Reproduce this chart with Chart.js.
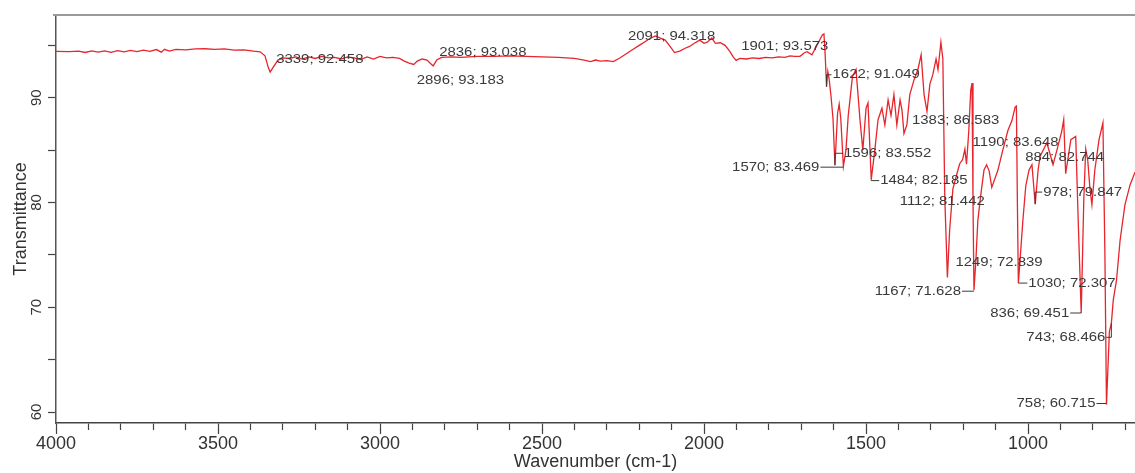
<!DOCTYPE html>
<html><head><meta charset="utf-8">
<script src="https://cdn.jsdelivr.net/npm/chart.js@4.4.0/dist/chart.umd.min.js"></script>
<style>html,body{margin:0;padding:0;background:#fff;overflow:hidden}#wrap{width:1135px;height:473px}</style>
</head><body>
<div id="wrap"><canvas id="c" width="1135" height="473"></canvas></div>
<script>
// ---- data ----
const wavenumbers = [
 4000,3960,3930,3910,3890,3870,3850,3830,3810,3790,3770,3750,3730,3710,3690,3675,3665,3650,3630,3600,
 3570,3540,3510,3480,3450,3420,3390,3370,3355,3345,3339,3330,3315,3300,3280,3260,3240,3220,3200,3180,
 3160,3140,3120,3100,3080,3060,3040,3020,3000,2980,2960,2940,2925,2910,2896,2885,2870,2855,2845,2836,
 2825,2810,2780,2750,2700,2650,2600,2550,2500,2450,2400,2370,2350,2335,2320,2300,2280,2260,2240,2220,
 2200,2180,2165,2150,2135,2120,2105,2091,2075,2060,2045,2030,2013,2000,1990,1976,1965,1950,1935,1920,
 1910,1901,1890,1870,1850,1830,1810,1790,1770,1750,1735,1720,1704,1690,1682,1667,1655,1645,1635,1630,
 1626,1622,1618,1614,1608,1602,1596,1588,1583,1578,1570,1562,1555,1542,1531,1519,1510,1500,1494,1484,
 1473,1463,1451,1442,1432,1423,1414,1405,1395,1389,1383,1374,1365,1352,1340,1330,1321,1312,1303,1294,
 1284,1278,1269,1263,1257,1249,1242,1232,1220,1211,1202,1195,1190,1183,1177,1173,1170,1167,1161,1155,
 1146,1136,1128,1120,1112,1093,1078,1062,1050,1040,1036,1033,1030,1025,1016,1007,997,988,978,969,
 963,942,923,911,896,890,884,868,853,845,836,828,822,816,809,803,794,781,769,763,
 758,749,743,737,727,716,701,685,670
];
const transmittance = [
 94.42,94.40,94.45,94.32,94.48,94.35,94.47,94.33,94.50,94.38,94.52,94.40,94.55,94.42,94.60,94.35,94.62,94.45,94.62,94.58,
 94.66,94.68,94.62,94.66,94.55,94.58,94.45,94.38,94.0,92.9,92.458,92.9,93.6,93.8,93.75,93.9,93.7,93.9,93.75,93.95,
 93.8,93.85,93.7,93.9,93.8,93.65,93.9,93.7,93.95,93.8,93.85,93.75,93.5,93.3,93.183,93.5,93.7,93.6,93.3,93.038,
 93.6,93.85,93.9,93.85,93.95,93.95,94.0,93.95,93.9,93.85,93.75,93.6,93.45,93.6,93.5,93.55,93.45,93.8,94.2,94.6,
 95.0,95.4,95.7,95.9,95.7,95.5,94.9,94.318,94.45,94.7,94.9,95.2,95.5,95.2,95.3,95.7,95.2,95.25,95.0,94.4,
 93.9,93.573,93.75,93.7,93.8,93.75,93.85,93.8,93.9,93.85,94.0,93.95,93.95,94.3,94.4,94.1,94.8,95.4,96.0,96.1,
 94.0,91.049,92.5,91.8,90.1,88.0,83.552,88.5,89.4,88.0,83.469,85.0,88.3,92.0,92.7,88.0,85.0,89.0,89.5,82.185,
 85.0,87.9,89.0,87.4,89.8,88.3,90.3,87.4,89.8,88.8,86.583,87.4,90.3,91.7,92.7,94.1,90.3,88.7,91.3,92.2,
 93.7,92.7,95.3,93.7,80.4,72.839,77.4,81.3,82.7,83.7,84.1,85.1,83.648,86.8,90.7,91.4,80.2,71.628,74.5,78.3,
 80.7,83.1,83.6,83.0,81.442,83.1,85.0,86.9,87.8,89.1,89.2,80.0,72.307,74.4,78.3,81.6,83.1,83.6,79.847,83.1,
 84.4,85.7,83.6,85.0,86.8,87.9,82.744,86.0,86.3,78.0,69.451,80.3,85.1,84.1,81.3,79.8,83.1,86.0,87.6,75.4,
 60.715,67.7,68.466,70.7,72.6,76.4,79.8,81.7,82.9
];
const peakWavenumbers = [3339,2896,2836,2091,1901,1622,1570,1596,1484,1383,1190,1112,884,978,1249,1167,1030,836,743,758];
const peakTransmittance = [92.458,93.183,93.038,94.318,93.573,91.049,83.469,83.552,82.185,86.583,83.648,81.442,82.744,79.847,72.839,71.628,72.307,69.451,68.466,60.715];
const xTickLabels = [4000,3500,3000,2500,2000,1500,1000];
const yTickLabels = [60,70,80,90];

// ---- label layout (pixel offsets from the marked point) ----
const labelPlacement = [
 {dx:6,dy:-13,align:'left'}, {dx:3,dy:16,align:'left'}, {dx:6,dy:-14,align:'left'},
 {dx:-3,dy:-16,align:'center'}, {dx:5,dy:-14,align:'left'}, {dx:6,dy:-12,align:'left',leader:'v'},
 {dx:-24,dy:1,align:'right',leader:'h'}, {dx:9,dy:-12,align:'left',leader:'v'}, {dx:9,dy:1,align:'left',leader:'v'},
 {dx:8,dy:-13,align:'left'}, {dx:6,dy:-22,align:'left'}, {dx:-7,dy:14,align:'right'},
 {dx:-1,dy:-16,align:'center'}, {dx:8,dy:-12,align:'left',leader:'v'}, {dx:8,dy:-15,align:'left'},
 {dx:-13,dy:1,align:'right',leader:'h'}, {dx:10,dy:0,align:'left',leader:'h'}, {dx:-12,dy:0,align:'right',leader:'h'},
 {dx:-6,dy:14,align:'right',leader:'v'}, {dx:-11,dy:-1,align:'right',leader:'h'}
];
const FONT = '"Liberation Sans", Arial, sans-serif';
const SX = 1.15;

const decor = {
  id: 'decor',
  afterDatasetsDraw(chart) {
    const {ctx, chartArea, scales} = chart;
    const xs = scales.x, ys = scales.y;
    ctx.save();
    ctx.strokeStyle = '#9a9a9a'; ctx.lineWidth = 2;
    ctx.beginPath(); ctx.moveTo(chartArea.left - 3, chartArea.top); ctx.lineTo(chartArea.right, chartArea.top); ctx.stroke();
    ctx.strokeStyle = '#444'; ctx.lineWidth = 1.2;
    xTickLabels.forEach(v => {
      const px = Math.round(xs.getPixelForValue(v)) + 0.5;
      ctx.beginPath(); ctx.moveTo(px, chartArea.bottom + 6); ctx.lineTo(px, chartArea.bottom + 11); ctx.stroke();
    });
    ctx.font = '13px ' + FONT;
    ctx.fillStyle = '#3a3a3a'; ctx.strokeStyle = '#3a3a3a'; ctx.lineWidth = 1;
    ctx.textBaseline = 'middle';
    peakWavenumbers.forEach((wn, i) => {
      const p = labelPlacement[i];
      const px = xs.getPixelForValue(wn), py = ys.getPixelForValue(peakTransmittance[i]);
      const text = wn + '; ' + peakTransmittance[i].toFixed(3);
      const w = ctx.measureText(text).width * SX;
      const tx = px + p.dx, ty = py + p.dy;
      const left = p.align === 'left' ? tx : (p.align === 'right' ? tx - w : tx - w / 2);
      if (p.leader) {
        const edge = p.align === 'right' ? left + w + 1 : left - 1;
        ctx.beginPath();
        if (p.leader === 'h') { ctx.moveTo(px, ty); ctx.lineTo(edge, ty); }
        else { ctx.moveTo(px, py); ctx.lineTo(px, ty); ctx.lineTo(edge, ty); }
        ctx.stroke();
      }
      ctx.save(); ctx.translate(left, ty); ctx.scale(SX, 1);
      ctx.textAlign = 'left'; ctx.fillText(text, 0, 0); ctx.restore();
    });
    ctx.restore();
  }
};

Chart.defaults.font.family = FONT;
new Chart(document.getElementById('c'), {
  type: 'line',
  data: { datasets: [{
    data: wavenumbers.map((w, i) => ({x: w, y: transmittance[i]})),
    borderColor: '#e8242c', borderWidth: 1.3, pointRadius: 0, tension: 0, fill: false
  }]},
  options: {
    responsive: false, animation: false, devicePixelRatio: 1,
    layout: { padding: {top: 15, left: 0, right: 0, bottom: 0} },
    plugins: { legend: {display: false}, tooltip: {enabled: false} },
    scales: {
      x: { type: 'linear', reverse: true, min: 670, max: 4000,
        ticks: { stepSize: 100, includeBounds: false, autoSkip: false, maxRotation: 0, minRotation: 0, maxTicksLimit: 1000,
          padding: 3, color: '#333', font: {size: 18},
          callback: v => xTickLabels.includes(v) ? String(v) : '' },
        grid: { drawOnChartArea: false, tickLength: 7, tickColor: '#444', tickWidth: 1.2 },
        border: { display: true, color: '#444', width: 1.5 },
        title: { display: true, text: 'Wavenumber (cm-1)', color: '#333', font: {size: 18}, padding: {top: 0, bottom: 0} },
        afterFit(s) { s.height = 50; }
      },
      y: { type: 'linear', min: 58.95, max: 97.9,
        ticks: { stepSize: 5, includeBounds: false, autoSkip: false, minRotation: 90, maxRotation: 90, crossAlign: 'center', maxTicksLimit: 1000,
          padding: 3, color: '#333', font: {size: 15},
          callback: v => yTickLabels.includes(v) ? String(v) : '' },
        grid: { drawOnChartArea: false, tickLength: 8, tickColor: '#444', tickWidth: 1.2 },
        border: { display: true, color: '#555', width: 1.5 },
        title: { display: true, text: 'Transmittance', color: '#333', font: {size: 18}, padding: {top: 10, bottom: 0} },
        afterFit(s) { s.width = 56; }
      }
    }
  },
  plugins: [decor]
});
</script>
</body></html>
